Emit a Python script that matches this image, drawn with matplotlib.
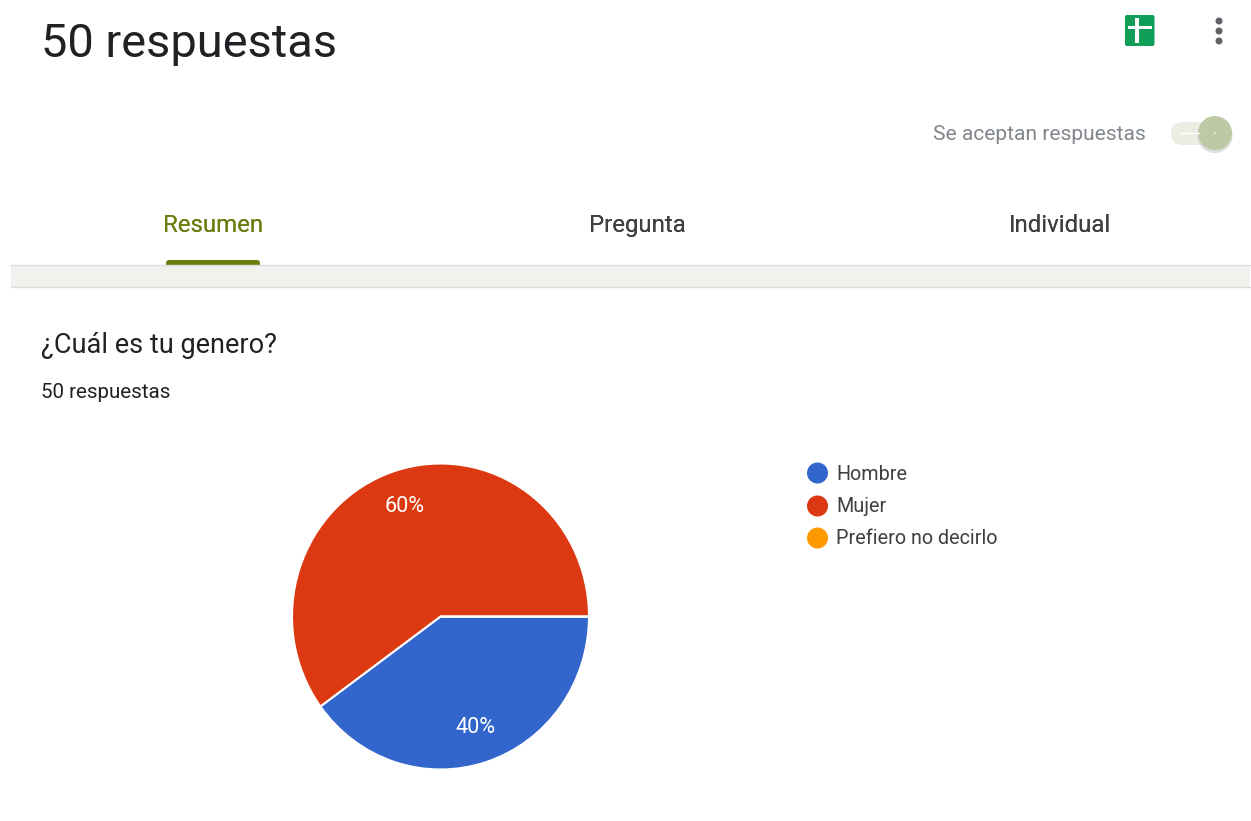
import matplotlib
matplotlib.use("Agg")
import matplotlib.pyplot as plt
from matplotlib.patches import Circle, FancyBboxPatch, Rectangle

W, H = 1251, 821
categories = ["Hombre", "Mujer", "Prefiero no decirlo"]
values = [40, 60, 0]
colors = ["#3366cc", "#dc3912", "#ff9900"]
labels = ["40%", "60%", ""]
tabs = ["Resumen", "Pregunta", "Individual"]
tab_x = [213, 637, 1060]
tab_colors = ["#6a7f10", "#3c4043", "#3c4043"]

plt.rcParams["font.family"] = ["Roboto", "DejaVu Sans"]
fig = plt.figure(figsize=(W / 100, H / 100), dpi=100, facecolor="white")
bg = fig.add_axes([0, 0, 1, 1])
bg.set_xlim(0, W)
bg.set_ylim(H, 0)
bg.axis("off")
bg.set_aspect("equal")

# header
bg.text(41, 43.5, "50 respuestas", fontsize=33.8, color="#202124", va="center", ha="left")

# sheets icon
bg.add_patch(FancyBboxPatch((1125, 15), 29.5, 31, boxstyle="round,pad=0,rounding_size=2", fc="#0f9d58", ec="none"))
bg.add_patch(Rectangle((1128, 25.5), 23.5, 3.2, fc="white", ec="none"))
bg.add_patch(Rectangle((1135.3, 18), 3.2, 25, fc="white", ec="none"))

# kebab
for yy in (21, 31, 41):
    bg.add_patch(Circle((1219, yy), 3.5, fc="#5f6368", ec="none"))

# toggle
bg.text(933, 134.5, "Se aceptan respuestas", fontsize=15.1, color="#80868b", va="center", ha="left")
bg.add_patch(FancyBboxPatch((1171, 122), 50, 23, boxstyle="round,pad=0,rounding_size=11.5", fc="#e9ede2", ec="none"))
bg.plot([1181, 1199], [133, 133], color="white", lw=1)
bg.add_patch(Circle((1215, 135.5), 17.5, fc="#cfcfcf", ec="none", alpha=0.7))
bg.add_patch(Circle((1215, 133), 17, fc="#bdc9a4", ec="none"))
bg.add_patch(Circle((1215, 133), 0.8, fc="white", ec="none"))

# tabs
for t, x, c in zip(tabs, tab_x, tab_colors):
    bg.text(x, 225.5, t, fontsize=17.3, color=c, va="center", ha="center")
    bg.text(x + 0.3, 225.5, t, fontsize=17.3, color=c, va="center", ha="center")
bg.add_patch(FancyBboxPatch((166, 260), 94, 8, boxstyle="round,pad=0,rounding_size=3", fc="#6a7f0a", ec="none"))

# band
bg.add_patch(Rectangle((11, 265.5), 1239, 22, fc="#f0f2ed", ec="none", zorder=3))
bg.plot([11, 1250], [265.5, 265.5], color="#dadce0", lw=1, zorder=4)
bg.plot([11, 1250], [287.5, 287.5], color="#dadce0", lw=1, zorder=4)

# question
bg.text(41, 345, "¿Cuál es tu genero?", fontsize=19.5, color="#202124", va="center", ha="left")
bg.text(41, 392.5, "50 respuestas", fontsize=14.8, color="#202124", va="center", ha="left")

# pie: the reference is slightly taller than wide
cx, cy, rx, ry = 440.5, 616.5, 148.5, 153
pie_ax = fig.add_axes([(cx - rx) / W, 1 - (cy + ry) / H, 2 * rx / W, 2 * ry / H])
wedges, _ = pie_ax.pie(
    values, colors=colors, startangle=0, counterclock=False, radius=1,
    wedgeprops=dict(edgecolor="white", linewidth=1.5),
)
pie_ax.set_aspect("auto")
pie_ax.set_xlim(-1, 1)
pie_ax.set_ylim(-1, 1)
pie_ax.text(0.235, -0.725, labels[0], color="white", fontsize=15.6, ha="center", va="center")
pie_ax.text(-0.24, 0.72, labels[1], color="white", fontsize=15.6, ha="center", va="center")

# legend
for c, name, y in zip(colors, categories, (473, 506, 538)):
    bg.add_patch(Circle((817.5, y), 10.5, fc=c, ec="none"))
    bg.text(836, y + 1, name, fontsize=14.2, color="#3c4043", va="center", ha="left")

fig.savefig("out.png", dpi=100)
